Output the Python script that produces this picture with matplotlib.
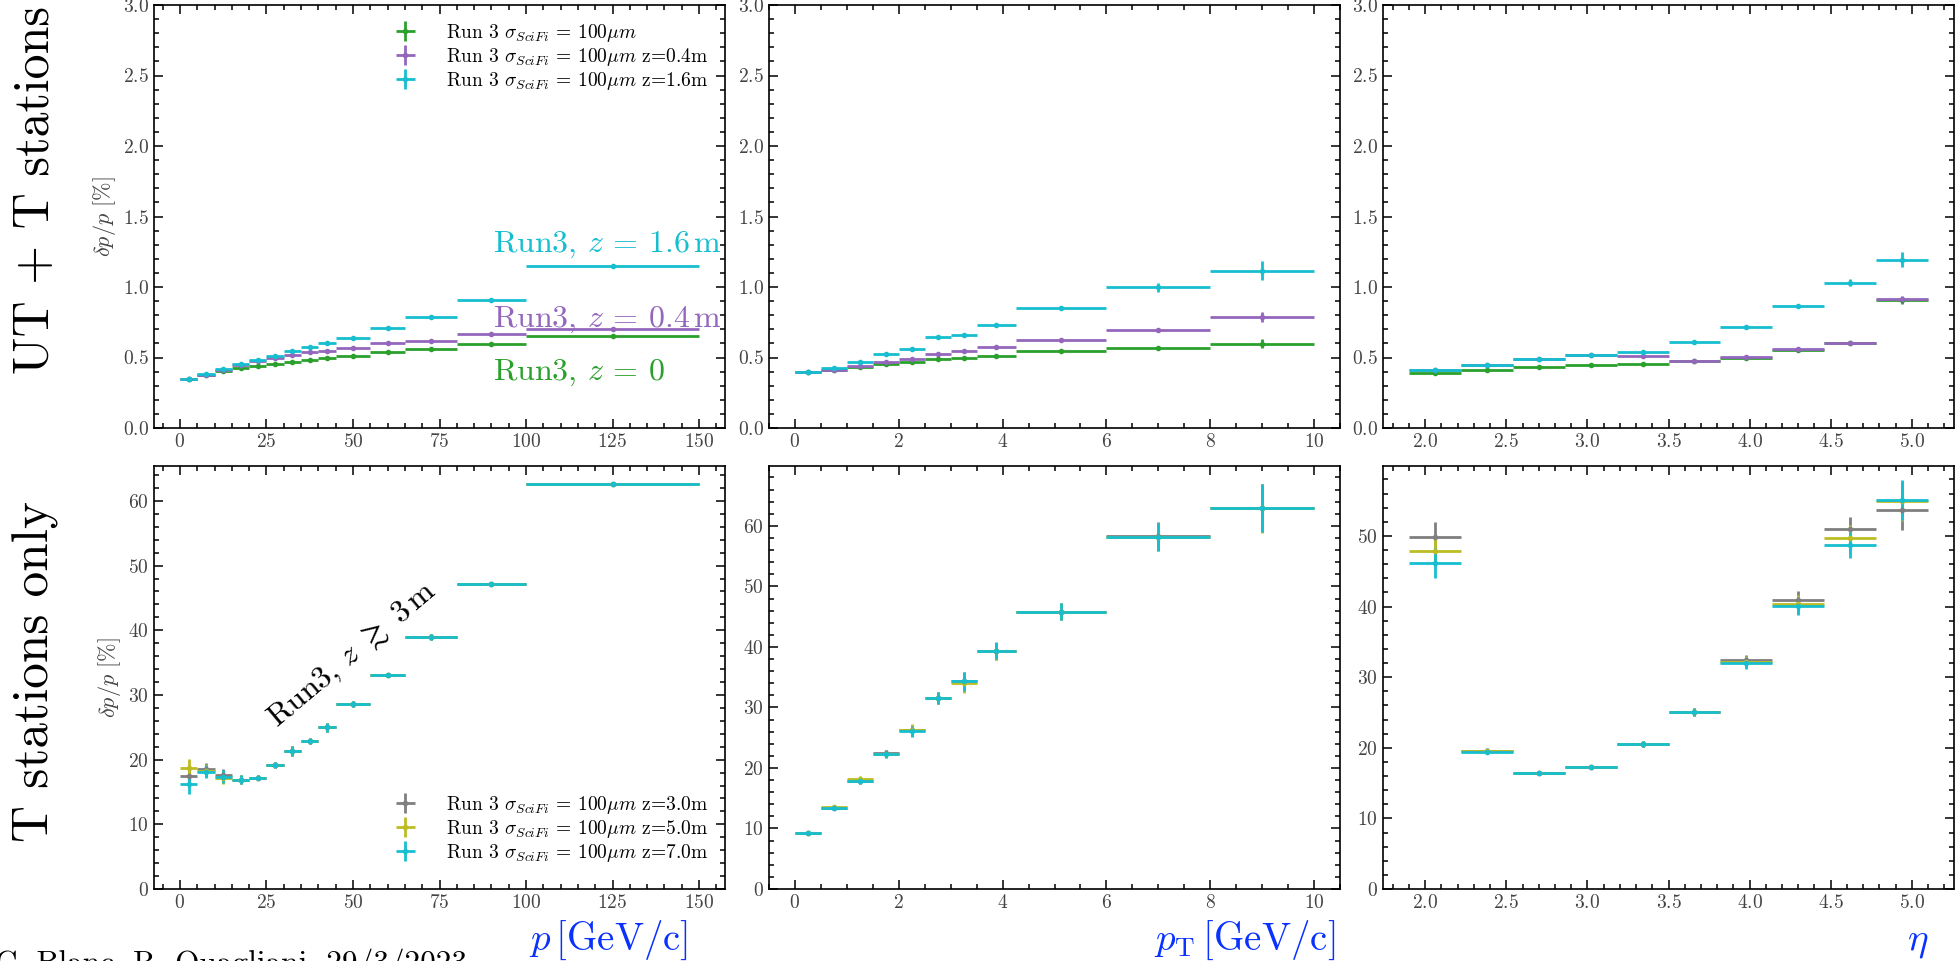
import numpy as np
import matplotlib
matplotlib.use("Agg")
import matplotlib.pyplot as plt
from matplotlib.ticker import MultipleLocator

plt.rcParams["font.family"] = "cmr10"
plt.rcParams["mathtext.fontset"] = "cm"
plt.rcParams["axes.formatter.use_mathtext"] = True
plt.rcParams["axes.unicode_minus"] = False

# bin edges
p_edges = [0, 5, 10, 15, 20, 25, 30, 35, 40, 45, 55, 65, 80, 100, 150]
pt_edges = [0, 0.5, 1, 1.5, 2, 2.5, 3, 3.5, 4.25, 6, 8, 10]
eta_edges = [1.9, 2.22, 2.54, 2.86, 3.18, 3.5, 3.82, 4.14, 4.46, 4.78, 5.1]

# UT + T stations, dp/p [%]
ut_p = {
    "z0": [0.35, 0.378, 0.405, 0.425, 0.442, 0.456, 0.47, 0.484, 0.498, 0.51, 0.536, 0.56, 0.595, 0.65],
    "z04": [0.35, 0.378, 0.413, 0.446, 0.477, 0.496, 0.52, 0.536, 0.546, 0.565, 0.60, 0.619, 0.664, 0.704],
    "z16": [0.35, 0.38, 0.42, 0.456, 0.484, 0.513, 0.543, 0.572, 0.60, 0.638, 0.706, 0.789, 0.91, 1.148],
}
ut_p_err = [0.005, 0.005, 0.005, 0.005, 0.005, 0.005, 0.005, 0.006, 0.006, 0.006, 0.007, 0.008, 0.008, 0.01]
ut_pt = {
    "z0": [0.397, 0.411, 0.432, 0.454, 0.47, 0.491, 0.498, 0.513, 0.543, 0.569, 0.598],
    "z04": [0.397, 0.413, 0.44, 0.468, 0.491, 0.524, 0.543, 0.572, 0.624, 0.695, 0.789],
    "z16": [0.40, 0.425, 0.468, 0.527, 0.562, 0.643, 0.659, 0.732, 0.85, 0.997, 1.115],
}
ut_pt_err = [0.005, 0.005, 0.005, 0.007, 0.007, 0.008, 0.01, 0.012, 0.015, 0.03, 0.068]
ut_eta = {
    "z0": [0.39, 0.411, 0.43, 0.444, 0.454, 0.475, 0.50, 0.555, 0.60, 0.905],
    "z04": [0.41, 0.445, 0.487, 0.515, 0.508, 0.477, 0.502, 0.557, 0.602, 0.912],
    "z16": [0.413, 0.449, 0.489, 0.517, 0.536, 0.607, 0.713, 0.867, 1.03, 1.195],
}
ut_eta_err = [0.006, 0.006, 0.006, 0.006, 0.008, 0.008, 0.01, 0.015, 0.025, 0.055]

# T stations only, dp/p [%]
t_p = {
    "z3": [17.46, 18.5, 17.6, 16.9, 17.2, 19.2, 21.3, 22.86, 25.0, 28.58, 33.06, 38.98, 47.1, 62.56],
    "z5": [18.64, 18.3, 17.2, 16.9, 17.2, 19.2, 21.3, 22.86, 25.0, 28.58, 33.06, 38.98, 47.1, 62.56],
    "z7": [16.17, 18.1, 17.35, 16.9, 17.2, 19.2, 21.3, 22.86, 25.0, 28.58, 33.06, 38.98, 47.1, 62.56],
}
t_p_err = [1.5, 1.0, 1.0, 0.7, 0.4, 0.5, 0.8, 0.5, 0.7, 0.5, 0.3, 0.5, 0.3, 0.3]
t_pt = {
    "z3": [9.3, 13.4, 17.9, 22.4, 26.2, 31.5, 34.4, 39.3, 45.85, 58.3, 63.0],
    "z5": [9.3, 13.5, 18.1, 22.3, 26.3, 31.5, 33.96, 39.3, 45.85, 58.2, 62.9],
    "z7": [9.3, 13.4, 17.8, 22.3, 26.1, 31.5, 34.3, 39.4, 45.85, 58.1, 62.96],
}
t_pt_err = [0.3, 0.4, 0.5, 0.6, 0.9, 1.0, 1.5, 1.4, 1.4, 2.3, 4.0]
t_eta = {
    "z3": [49.86, 19.5, 16.42, 17.26, 20.52, 25.1, 32.36, 40.94, 50.94, 53.7],
    "z5": [47.8, 19.48, 16.42, 17.26, 20.52, 25.1, 32.2, 40.3, 49.7, 54.9],
    "z7": [46.2, 19.45, 16.42, 17.26, 20.52, 25.1, 32.0, 40.1, 48.7, 55.1],
}
t_eta_err = [2.1, 0.4, 0.3, 0.3, 0.4, 0.6, 0.8, 1.3, 1.8, 2.8]

top_labels = {
    "z0": r"Run 3 $\sigma_{SciFi}$ = 100$\mu m$",
    "z04": r"Run 3 $\sigma_{SciFi}$ = 100$\mu m$ z=0.4m",
    "z16": r"Run 3 $\sigma_{SciFi}$ = 100$\mu m$ z=1.6m",
}
bot_labels = {
    "z3": r"Run 3 $\sigma_{SciFi}$ = 100$\mu m$ z=3.0m",
    "z5": r"Run 3 $\sigma_{SciFi}$ = 100$\mu m$ z=5.0m",
    "z7": r"Run 3 $\sigma_{SciFi}$ = 100$\mu m$ z=7.0m",
}
colors = {"z0": "#2ca02c", "z04": "#9467bd", "z16": "#17becf",
          "z3": "#7f7f7f", "z5": "#bcbd22", "z7": "#17becf"}


def draw(ax, edges, series, err, labels):
    e = np.array(edges)
    x = (e[1:] + e[:-1]) / 2
    xe = (e[1:] - e[:-1]) / 2
    for key, vals in series.items():
        yerr = np.array(err) * (1.0 if key in ("z16", "z7", "z3", "z5") else 0.5)
        ax.errorbar(x, vals, xerr=xe, yerr=yerr, fmt="o", ms=3, lw=2, elinewidth=2,
                    color=colors[key], label=labels[key])


def style(ax, xmaj, xmin, ymaj, ymin):
    ax.xaxis.set_major_locator(MultipleLocator(xmaj))
    ax.xaxis.set_minor_locator(MultipleLocator(xmin))
    ax.yaxis.set_major_locator(MultipleLocator(ymaj))
    ax.yaxis.set_minor_locator(MultipleLocator(ymin))
    ax.tick_params(which="both", direction="in", top=True, right=True,
                   labelsize=14, labelcolor="#444444", width=1.1)
    ax.tick_params(which="major", length=6.5)
    ax.tick_params(which="minor", length=3.5)
    for s in ax.spines.values():
        s.set_linewidth(1.2)


fig = plt.figure(figsize=(19.57, 9.61), dpi=100)
W, H = 1957, 961
cols = [154, 769, 1383]
aw = 571
rows = [(5, 428), (466, 889)]
axes = []
for (t, b) in rows:
    r = []
    for c in cols:
        r.append(fig.add_axes([c / W, 1 - b / H, aw / W, (b - t) / H]))
    axes.append(r)

draw(axes[0][0], p_edges, ut_p, ut_p_err, top_labels)
draw(axes[0][1], pt_edges, ut_pt, ut_pt_err, top_labels)
draw(axes[0][2], eta_edges, ut_eta, ut_eta_err, top_labels)
draw(axes[1][0], p_edges, t_p, t_p_err, bot_labels)
draw(axes[1][1], pt_edges, t_pt, t_pt_err, bot_labels)
draw(axes[1][2], eta_edges, t_eta, t_eta_err, bot_labels)

for ax in axes[0]:
    ax.set_ylim(0, 3.0)
axes[1][0].set_ylim(0, 65.4)
axes[1][1].set_ylim(0, 69.9)
axes[1][2].set_ylim(0, 59.9)

for r, (ymaj, ymin) in zip(axes, [(0.5, 0.1), (10, 2)]):
    style(r[0], 25, 5, ymaj, ymin)
    style(r[1], 2, 0.5, ymaj, ymin)
    style(r[2], 0.5, 0.1, ymaj, ymin)

for ax in (axes[0][0], axes[1][0]):
    ax.set_ylabel(r"$\delta p/p$ [%]", fontsize=16, color="#444444")

leg_kw = dict(frameon=False, fontsize=14, labelspacing=0.1, handlelength=1.2,
              handletextpad=1.5, borderpad=0, borderaxespad=0)
axes[0][0].legend(loc="upper left", bbox_to_anchor=(0.42, 0.96), **leg_kw)
axes[1][0].legend(loc="lower left", bbox_to_anchor=(0.42, 0.06), **leg_kw)

a = axes[0][0]
a.text(90.5, 1.248, r"Run3, $z$ = 1.6$\,$m", color=colors["z16"], fontsize=23)
a.text(90.5, 0.716, r"Run3, $z$ = 0.4$\,$m", color=colors["z04"], fontsize=23)
a.text(90.5, 0.34, r"Run3, $z$ = 0", color=colors["z0"], fontsize=23)
axes[1][0].text(49.7, 36.2, r"Run3, $z\ \gtrsim\ 3\,$m", fontsize=23, rotation=40,
                ha="center", va="center")

fig.text(36 / W, 1 - 190 / H, "UT + T stations", rotation=90, fontsize=36,
         ha="center", va="center")
fig.text(36 / W, 1 - 672 / H, "T stations only", rotation=90, fontsize=37,
         ha="center", va="center")

xl = dict(fontsize=28, color="#0a32ff", ha="right", va="baseline")
fig.text(688 / W, 1 - 950 / H, r"$p\,$[GeV/c]", **xl)
fig.text(1335 / W, 1 - 950 / H, r"$p_{\rm T}\,$[GeV/c]", **xl)
fig.text(1928 / W, 1 - 950 / H, r"$\eta$", **xl)

fig.text(-5 / W, 1 - 948 / H, "C. Blanc, R. Quagliani, 29/3/2023", fontsize=22.5,
         ha="left", va="top")

fig.savefig("out.png", dpi=100)
